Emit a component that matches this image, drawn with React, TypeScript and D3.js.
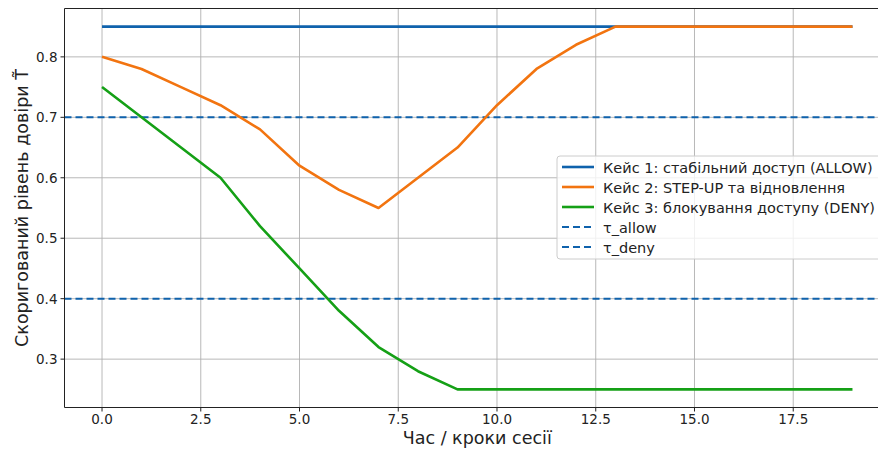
import * as React from "react";
import * as d3 from "d3";

// session steps 0..19
const steps = d3.range(0, 20);
const case1 = [0.85, 0.85, 0.85, 0.85, 0.85, 0.85, 0.85, 0.85, 0.85, 0.85, 0.85, 0.85, 0.85, 0.85, 0.85, 0.85, 0.85, 0.85, 0.85, 0.85];
const case2 = [0.8, 0.78, 0.75, 0.72, 0.68, 0.62, 0.58, 0.55, 0.6, 0.65, 0.72, 0.78, 0.82, 0.85, 0.85, 0.85, 0.85, 0.85, 0.85, 0.85];
const case3 = [0.75, 0.7, 0.65, 0.6, 0.52, 0.45, 0.38, 0.32, 0.28, 0.25, 0.25, 0.25, 0.25, 0.25, 0.25, 0.25, 0.25, 0.25, 0.25, 0.25];
const tauAllow = 0.7;
const tauDeny = 0.4;

const xTicks = [0, 2.5, 5, 7.5, 10, 12.5, 15, 17.5];
const yTicks = [0.3, 0.4, 0.5, 0.6, 0.7, 0.8];

const seriesNames = [
  "Кейс 1: стабільний доступ (ALLOW)",
  "Кейс 2: STEP-UP та відновлення",
  "Кейс 3: блокування доступу (DENY)",
];
const thresholdNames = ["τ_allow", "τ_deny"];

const BLUE = "#0f62ac";
const ORANGE = "#f27410";
const GREEN = "#15a016";
const FONT = "DejaVu Sans, sans-serif";

const W = 878;
const H = 450;
const plot = { left: 64.5, top: 8.5, right: 890, bottom: 407.5 };

export default function App() {
  React.useEffect(() => {
    document.body.style.margin = "0";
  }, []);

  const x = d3.scaleLinear().domain([-0.95, 19.95]).range([plot.left, plot.right]);
  const y = d3.scaleLinear().domain([0.22, 0.88]).range([plot.bottom, plot.top]);

  const line = d3
    .line<number>()
    .x((_, i) => x(steps[i]))
    .y((d) => y(d));

  const series = [
    { values: case1, color: BLUE },
    { values: case2, color: ORANGE },
    { values: case3, color: GREEN },
  ];

  const legendX = 557;
  const legendY = 156;
  const rowH = 20;
  const legendItems = [
    ...seriesNames.map((n, i) => ({ name: n, color: series[i].color, dashed: false })),
    ...thresholdNames.map((n) => ({ name: n, color: BLUE, dashed: true })),
  ];

  return (
    <svg width={W} height={H} style={{ display: "block", background: "white" }} fontFamily={FONT}>
      <defs>
        <clipPath id="plot-clip">
          <rect x={plot.left} y={plot.top} width={plot.right - plot.left} height={plot.bottom - plot.top} />
        </clipPath>
      </defs>

      {/* grid */}
      <g stroke="#b0b0b0" strokeWidth={0.9}>
        {xTicks.map((t) => (
          <line key={"gx" + t} x1={x(t)} x2={x(t)} y1={plot.top} y2={plot.bottom} />
        ))}
        {yTicks.map((t) => (
          <line key={"gy" + t} x1={plot.left} x2={plot.right} y1={y(t)} y2={y(t)} />
        ))}
      </g>

      {/* thresholds + series */}
      <g clipPath="url(#plot-clip)">
        {[tauAllow, tauDeny].map((t) => (
          <line
            key={"th" + t}
            x1={plot.left}
            x2={plot.right}
            y1={y(t)}
            y2={y(t)}
            stroke={BLUE}
            strokeWidth={2}
            strokeDasharray="7,4"
          />
        ))}
        {series.map((s, i) => (
          <path key={i} d={line(s.values) ?? ""} fill="none" stroke={s.color} strokeWidth={2.6} strokeLinejoin="round" />
        ))}
      </g>

      {/* spines */}
      <g stroke="#222" strokeWidth={1}>
        <line x1={plot.left} x2={plot.left} y1={plot.top} y2={plot.bottom} />
        <line x1={plot.left} x2={plot.right} y1={plot.top} y2={plot.top} />
        <line x1={plot.left} x2={plot.right} y1={plot.bottom} y2={plot.bottom} />
      </g>

      {/* x axis */}
      <g fontSize={13.5} fill="#222">
        {xTicks.map((t) => (
          <g key={"xt" + t}>
            <line x1={x(t)} x2={x(t)} y1={plot.bottom} y2={plot.bottom + 4} stroke="#222" />
            <text x={x(t)} y={plot.bottom + 16.5} textAnchor="middle">
              {t.toFixed(1)}
            </text>
          </g>
        ))}
      </g>
      <text x={(plot.left + plot.right) / 2} y={443.5} textAnchor="middle" fontSize={17.5} fill="#222">
        Час / кроки сесії
      </text>

      {/* y axis */}
      <g fontSize={13.5} fill="#222">
        {yTicks.map((t) => (
          <g key={"yt" + t}>
            <line x1={plot.left - 4} x2={plot.left} y1={y(t)} y2={y(t)} stroke="#222" />
            <text x={plot.left - 7} y={y(t) + 5} textAnchor="end">
              {t.toFixed(1)}
            </text>
          </g>
        ))}
      </g>
      <text
        transform={`translate(28,${(plot.top + plot.bottom) / 2}) rotate(-90)`}
        textAnchor="middle"
        fontSize={17.5}
        fill="#222"
      >
        {"Скоригований рівень довіри T\u0303"}
      </text>

      {/* legend */}
      <g>
        <rect
          x={legendX}
          y={legendY}
          width={330}
          height={103}
          rx={3}
          fill="white"
          fillOpacity={0.8}
          stroke="#cccccc"
        />
        {legendItems.map((it, i) => {
          const cy = legendY + 11 + i * rowH;
          return (
            <g key={it.name}>
              <line
                x1={legendX + 5}
                x2={legendX + 37}
                y1={cy}
                y2={cy}
                stroke={it.color}
                strokeWidth={it.dashed ? 2 : 2.6}
                strokeDasharray={it.dashed ? "7,4" : undefined}
              />
              <text x={legendX + 46} y={cy + 6} fontSize={14.5} fill="#222">
                {it.name}
              </text>
            </g>
          );
        })}
      </g>
    </svg>
  );
}
